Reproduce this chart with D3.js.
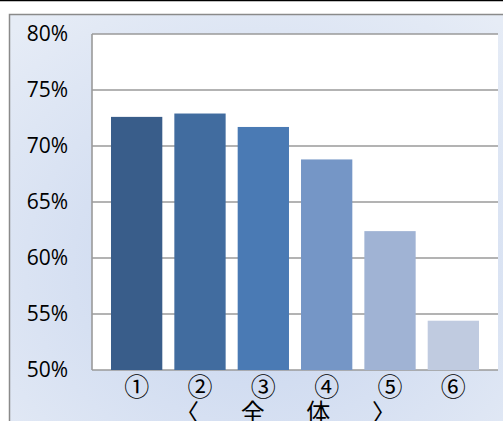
<!DOCTYPE html>
<html>
<head>
<meta charset="utf-8">
<script src="https://cdn.jsdelivr.net/npm/d3@7"></script>
<style>
body{margin:0;background:#fff;}
</style>
</head>
<body>
<div id="chart"></div>
<script>
// data
var categories = ["①","②","③","④","⑤","⑥"]
var values = [72.6, 72.9, 71.7, 68.8, 62.4, 54.4]
var yTicks = [50,55,60,65,70,75,80]
var barColors = ["#395d8a","#416c9f","#4a7ab4","#7596c6","#a0b3d4","#c0cbe0"]
var groupChars = ["〈","全","体","〉"]

var width = 503, height = 421
var svg = d3.select("#chart").append("svg")
    .attr("width",width)
    .attr("height",height)

var defs = svg.append("defs")
var grad = defs.append("radialGradient")
    .attr("id","bg")
    .attr("cx","0.5").attr("cy","0.6").attr("r","0.75")
grad.append("stop").attr("offset","0%").attr("stop-color","#c6d4ee")
grad.append("stop").attr("offset","100%").attr("stop-color","#e6ecf6")

// top black rule
svg.append("line")
    .attr("x1",0).attr("x2",width)
    .attr("y1",0.5).attr("y2",0.5)
    .style("stroke","#000").style("stroke-width",1.5)

// chart frame
svg.append("rect")
    .attr("x",9.5).attr("y",14.5)
    .attr("width",width).attr("height",height)
    .attr("fill","url(#bg)")
    .attr("stroke","#8a8a8a").attr("stroke-width",1.5)

var plotLeft = 92, plotRight = 498, plotTop = 34, plotBottom = 370

var x = d3.scaleBand()
    .domain(categories)
    .range([plotLeft,plotRight])
    .paddingInner(0.19)
    .paddingOuter(0.3)

var y = d3.scaleLinear()
    .domain([50,80])
    .range([plotBottom,plotTop])

// plot area
svg.append("rect")
    .attr("x",plotLeft).attr("y",plotTop)
    .attr("width",plotRight-plotLeft).attr("height",plotBottom-plotTop)
    .attr("fill","#fff")

// gridlines
svg.append("g")
    .selectAll("line")
    .data(yTicks)
    .join("line")
    .attr("x1",plotLeft).attr("x2",plotRight)
    .attr("y1",d=>y(d)).attr("y2",d=>y(d))
    .style("stroke","#9a9a9a").style("stroke-width",1.6)

svg.append("line")
    .attr("x1",plotLeft).attr("x2",plotLeft)
    .attr("y1",plotTop).attr("y2",plotBottom)
    .style("stroke","#9a9a9a").style("stroke-width",1.6)

// bars
svg.append("g")
    .selectAll("rect")
    .data(values)
    .join("rect")
    .attr("x",(d,i)=>x(categories[i]))
    .attr("width",x.bandwidth())
    .attr("y",d=>y(d))
    .attr("height",d=>plotBottom-y(d))
    .attr("fill",(d,i)=>barColors[i])

// y labels
svg.append("g")
    .selectAll("text")
    .data(yTicks)
    .join("text")
    .attr("x",68)
    .attr("y",d=>y(d))
    .attr("dy","0.35em")
    .attr("text-anchor","end")
    .style("font-family","'Open Sans', sans-serif")
    .style("font-size","21px")
    .text(d=>d+"%")

// x labels
svg.append("g")
    .selectAll("text")
    .data(categories)
    .join("text")
    .attr("x",d=>x(d)+x.bandwidth()/2)
    .attr("y",387)
    .attr("dy","0.35em")
    .attr("text-anchor","middle")
    .style("font-family","'Noto Sans CJK JP', sans-serif")
    .style("font-size","25px")
    .text(d=>d)

// group label spread under the bars
var gx = d3.scalePoint()
    .domain(groupChars)
    .range([187,384])
svg.append("g")
    .selectAll("text")
    .data(groupChars)
    .join("text")
    .attr("x",d=>gx(d))
    .attr("y",413)
    .attr("dy","0.35em")
    .attr("text-anchor","middle")
    .style("font-family","'Noto Sans CJK JP', sans-serif")
    .style("font-size","24px")
    .text(d=>d)
</script>
</body>
</html>
